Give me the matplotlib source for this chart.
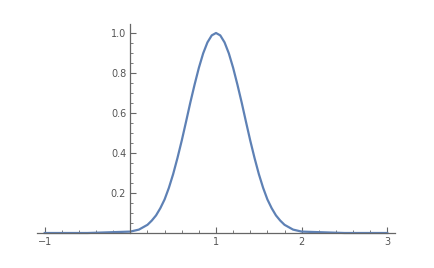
import numpy as np
import matplotlib.pyplot as plt
from matplotlib.ticker import MultipleLocator

# curve values
x = [-1.0, -0.5, 0.0, 0.1, 0.2, 0.25, 0.3, 0.35, 0.4, 0.45, 0.5, 0.55, 0.6, 0.65,
     0.7, 0.75, 0.8, 0.85, 0.9, 0.95, 1.0, 1.05, 1.1, 1.15, 1.2, 1.25, 1.3, 1.35,
     1.4, 1.45, 1.5, 1.55, 1.6, 1.65, 1.7, 1.75, 1.8, 1.9, 2.0, 2.5, 3.0]
y = [0.0, 0.0, 0.007, 0.017, 0.041, 0.062, 0.088, 0.124, 0.168, 0.226, 0.295, 0.375,
     0.462, 0.556, 0.652, 0.742, 0.826, 0.898, 0.953, 0.988, 1.0, 0.988, 0.953, 0.898,
     0.826, 0.742, 0.652, 0.556, 0.462, 0.375, 0.295, 0.226, 0.168, 0.124, 0.088,
     0.062, 0.041, 0.017, 0.007, 0.0, 0.0]
xticks = [-1, 1, 2, 3]
yticks = [0.2, 0.4, 0.6, 0.8, 1.0]

fig = plt.figure(figsize=(4.34, 2.68), dpi=100)
ax = fig.add_axes([37/434, (268-233)/268, (395-37)/434, (233-24)/268])
ax.plot(x, y, color='#5E81B5', lw=1.6, clip_on=False)
ax.set_xlim(-1.09, 3.09)
ax.set_ylim(0, 1.045)

for s in ['top', 'right']:
    ax.spines[s].set_visible(False)
ax.spines['left'].set_position(('data', 0))
ax.spines['bottom'].set_position(('data', 0))
for s in ['left', 'bottom']:
    ax.spines[s].set_color('#666666')
    ax.spines[s].set_linewidth(0.9)

ax.set_xticks(xticks)
ax.set_xticklabels(['\u22121', '1', '2', '3'])
ax.set_yticks(yticks)
ax.set_yticklabels(['0.2', '0.4', '0.6', '0.8', '1.0'])
ax.xaxis.set_minor_locator(MultipleLocator(0.2))
ax.yaxis.set_minor_locator(MultipleLocator(0.05))
ax.tick_params(which='major', direction='in', length=4, width=0.8, color='#666666',
               labelsize=7, labelcolor='#555555', pad=3)
ax.tick_params(which='minor', direction='in', length=2, width=0.6, color='#666666')

fig.savefig('out.png', dpi=100)
